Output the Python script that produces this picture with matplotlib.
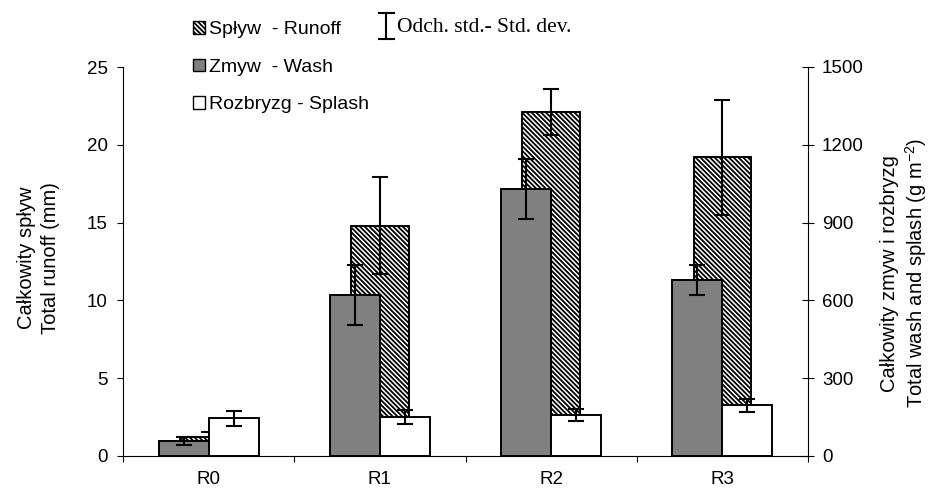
import matplotlib
matplotlib.use("Agg")
import matplotlib.pyplot as plt
import numpy as np
from matplotlib.patches import Patch
from matplotlib.lines import Line2D

# data
plots = ["R0", "R1", "R2", "R3"]
runoff = [1.2, 14.8, 22.1, 19.2]          # mm, left axis
runoff_sd = [0.33, 3.1, 1.5, 3.7]
wash = [58, 621, 1030, 679]               # g m-2, right axis
wash_sd = [14, 114, 116, 58]
splash = [145, 150, 158, 195]             # g m-2, right axis
splash_sd = [29, 27, 23, 25]

plt.rcParams["font.family"] = ["Liberation Sans", "DejaVu Sans"]
plt.rcParams["mathtext.fontset"] = "custom"
plt.rcParams["mathtext.rm"] = "Liberation Sans"
plt.rcParams["hatch.linewidth"] = 1.3
FS = 13.5
HATCH = "\\" * 7

fig = plt.figure(figsize=(9.32, 4.92), dpi=100)
ax = fig.add_axes([123 / 932, 1 - 456 / 492, 685 / 932, 389 / 492])
ax2 = ax.twinx()

x = np.arange(len(plots))
ekw = dict(ecolor="black", elinewidth=1.5, capsize=5.5, capthick=1.5, fmt="none")

ax.bar(x, runoff, 0.337, color="white", edgecolor="black", hatch=HATCH, lw=1.4, zorder=2)
ax.errorbar(x, runoff, yerr=runoff_sd, zorder=3, **ekw)

ax2.bar(x - 0.146, wash, 0.292, color="#808080", edgecolor="black", lw=1.4, zorder=2)
ax2.bar(x + 0.146, splash, 0.292, color="white", edgecolor="black", lw=1.4, zorder=2)
ax2.errorbar(x - 0.146, wash, yerr=wash_sd, zorder=3, **ekw)
ax2.errorbar(x + 0.146, splash, yerr=splash_sd, zorder=3, **ekw)

ax.set_xlim(-0.5, len(plots) - 0.5)
ax.set_ylim(0, 25)
ax2.set_ylim(0, 1500)
ax.set_yticks(range(0, 26, 5))
ax2.set_yticks(range(0, 1501, 300))

ax.set_xticks(x)
ax.set_xticklabels(plots, fontsize=FS)
ax.set_xticks(np.arange(-0.5, len(plots)), minor=True)
ax.tick_params(axis="x", which="major", length=0, pad=11)
ax.tick_params(axis="x", which="minor", length=4, width=0.8, direction="out")
ax.tick_params(axis="y", length=4, width=0.8, direction="out", labelsize=FS, pad=7)
ax2.tick_params(axis="y", length=8, width=0.8, direction="inout", labelsize=FS, pad=6)

for sp in ("top", "right"):
    ax.spines[sp].set_visible(False)
for sp in ("top", "left", "bottom"):
    ax2.spines[sp].set_visible(False)
for a in (ax, ax2):
    for sp in a.spines.values():
        sp.set_linewidth(0.8)

ax.set_ylabel("Całkowity spływ\nTotal runoff (mm)", fontsize=14.5, linespacing=1.3)
ax.yaxis.set_label_coords(-0.092, 0.509)
ax2.set_ylabel("Całkowity zmyw i rozbryzg\nTotal wash and splash (g m$^{-2}$)", fontsize=14.5,
               rotation=90, linespacing=1.2)
ax2.yaxis.set_label_coords(1.105, 0.47)

handles = [Patch(facecolor="white", edgecolor="black", hatch=HATCH, lw=1.0),
           Patch(facecolor="#808080", edgecolor="black", lw=1.0),
           Patch(facecolor="white", edgecolor="black", lw=1.0)]
labels = ["Spływ  - Runoff", "Zmyw  - Wash", "Rozbryzg - Splash"]
fig.legend(handles, labels, loc="upper left", bbox_to_anchor=(193 / 932, 1 - 21 / 492),
           frameon=False, fontsize=14, handlelength=0.62, handleheight=0.62,
           handletextpad=0.2, labelspacing=1.05, borderpad=0, borderaxespad=0)

# std. dev. legend key
ex = 386 / 932
fig.add_artist(Line2D([ex, ex], [1 - 13 / 492, 1 - 39 / 492], color="black", lw=1.5, transform=fig.transFigure))
for yy in (13, 39):
    fig.add_artist(Line2D([379 / 932, 394 / 932], [1 - yy / 492] * 2, color="black", lw=1.5,
                          transform=fig.transFigure))
fig.text(397 / 932, 1 - 28 / 492, "Odch. std.- Std. dev.", fontsize=15.5, va="center",
         family=["Liberation Serif", "DejaVu Serif"])

fig.savefig("out.png", dpi=100)
